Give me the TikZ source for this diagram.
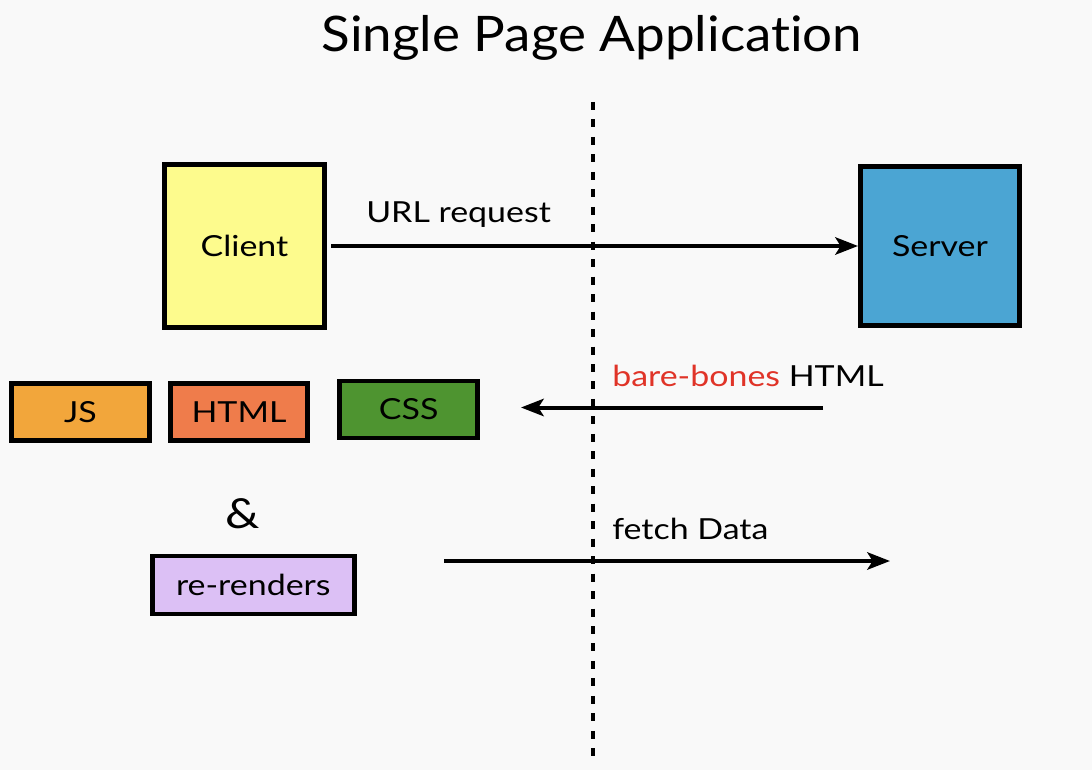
\documentclass[tikz,border=0pt]{standalone}
\usepackage{fontspec}
\setmainfont{Lato}[FakeStretch=1.17, Ligatures={NoCommon}]
\newfontfamily\titlefont{Lato}[FakeStretch=1.08, Ligatures={NoCommon}]
\usetikzlibrary{arrows.meta}
\definecolor{bgc}{RGB}{249,249,249}
\definecolor{clientc}{RGB}{253,251,141}
\definecolor{serverc}{RGB}{75,165,211}
\definecolor{jsc}{RGB}{242,166,59}
\definecolor{htmlc}{RGB}{239,124,75}
\definecolor{cssc}{RGB}{78,148,48}
\definecolor{rerc}{RGB}{220,192,245}
\definecolor{redtxt}{RGB}{224,52,40}
\tikzset{
  bodyfont/.style={font=\fontsize{21.75}{26}\selectfont},
  bigbox/.style={draw=black, line width=3.75pt, inner sep=0pt, bodyfont},
  smallbox/.style={draw=black, line width=3.5pt, inner sep=0pt, bodyfont},
  lbl/.style={inner sep=0pt, anchor=base west, bodyfont},
  arr/.style={line width=3pt, -{Stealth[length=17pt,width=13pt,inset=4pt]}},
  divider/.style={line width=3.2pt, dash pattern=on 6pt off 7.1pt}
}
\begin{document}
\begin{tikzpicture}[x=0.75pt,y=-0.75pt]
\fill[bgc] (0,0) rectangle (1092,770);
\useasboundingbox (0,0) rectangle (1092,770);

\node[inner sep=0pt, anchor=base, font=\titlefont\fontsize{36.75}{44}\selectfont] (title) at (592,52) {Single Page Application};

\coordinate (d1) at (593,102);
\coordinate (d2) at (593,757);
\draw[divider] (d1) -- (d2);

\node[bigbox, fill=clientc, minimum width=120pt, minimum height=122.25pt] (client) at (244.5,246) {Client};
\node[bigbox, fill=serverc, minimum width=119.25pt, minimum height=119.25pt] (server) at (940,246) {Server};

\node[smallbox, fill=jsc, minimum width=103.5pt, minimum height=42.75pt] (js) at (80.5,412) {JS};
\node[smallbox, fill=htmlc, minimum width=102.75pt, minimum height=42.75pt] (html) at (239,412) {HTML};
\node[smallbox, fill=cssc, minimum width=103.5pt, minimum height=42.75pt] (css) at (408.7,409.5) {CSS};

\node[inner sep=0pt, font=\fontsize{31}{36}\selectfont] (amp) at (243,514) {\&};
\node[smallbox, fill=rerc, minimum width=151.5pt, minimum height=43.5pt] (rer) at (253.3,585) {re-renders};

\draw[arr, shorten <=3pt] (client.east) -- (server.west);
\node[lbl] (urllbl) at (366,223) {URL request};

\coordinate (b1) at (823,407.5);
\coordinate (b2) at (521,407.5);
\draw[arr] (b1) -- (b2);
\node[lbl] (bblbl) at (612,386) {\textcolor{redtxt}{bare-bones} HTML};

\coordinate (f1) at (444,561);
\coordinate (f2) at (890,561);
\draw[arr] (f1) -- (f2);
\node[lbl] (flbl) at (612,539) {fetch Data};
\end{tikzpicture}
\end{document}
